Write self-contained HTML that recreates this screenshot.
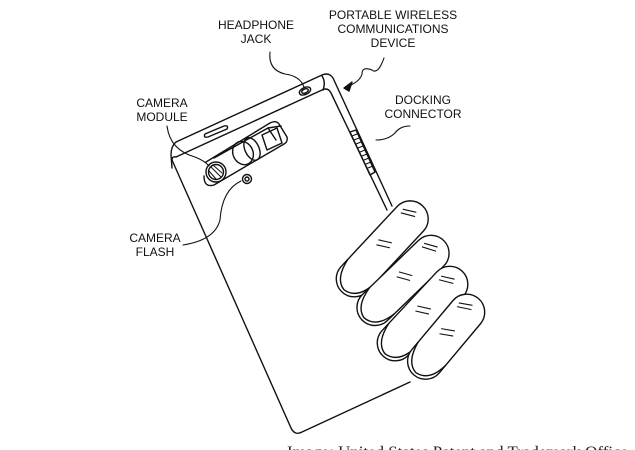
<!DOCTYPE html>
<html><head><style>
body{margin:0;background:#fff;width:635px;height:450px;overflow:hidden;position:relative}
svg{position:absolute;left:0;top:0}
.l{font-family:"Liberation Sans",Arial,sans-serif;font-size:12px;fill:#111;text-anchor:middle}
</style></head><body>
<svg width="635" height="450" viewBox="0 0 635 450">
<g fill="none" stroke="#111" stroke-width="1.4" stroke-linejoin="round" stroke-linecap="round">
<!-- phone body -->
<path d="M176,142 L322,75 Q329,72 333,78 L392,206"/>
<path d="M176,142 Q171,146 171,155 L172,168"/>
<path d="M176,157 L322,90 Q328,87 331,93 L387,210"/>
<path d="M322,76 Q326,82 323,90"/>
<path d="M172,160 L291,428 Q295,436 302,432 L410,382"/>
<path d="M172,160 Q172,156 176,157"/>
<!-- headphone jack -->
<ellipse cx="305" cy="91" rx="6" ry="3.5" transform="rotate(-25 305 91)"/>
<ellipse cx="305" cy="91" rx="3.5" ry="2" transform="rotate(-25 305 91)"/>
<!-- slot -->
<path d="M205,134 L224,126 Q229,125 227,129 L208,137 Q203,138 205,134Z"/>
<!-- camera module -->
<path d="M206,162 L270,123 Q276,120 279,124 L287,137 Q288,142 284,144 L214,185 Q204,188 204,176"/>
<path d="M214,158 L268,128 L281,126"/>
<path d="M268,128 L276,140"/>
<circle cx="216" cy="172" r="10"/>
<circle cx="216" cy="172" r="7.5"/>
<path d="M211,167 L221,177 M209,171 L216,179 M213,165 L222,173" stroke-width="1"/>
<ellipse cx="243" cy="153" rx="10" ry="12" transform="rotate(-25 243 153)"/>
<ellipse cx="252" cy="149" rx="7" ry="12" transform="rotate(-25 252 149)"/>
<path d="M262,135 L277,128 L282,143 L267,150Z"/>
<circle cx="247" cy="179" r="4.5"/>
<circle cx="247" cy="179" r="2"/>
<!-- docking grill -->
<path d="M350,132 L356,130 L375,172 L370,175Z"/>
<path d="M352,136 L357,134 M354,140 L359,138 M356,144 L361,142 M358,148 L363,146 M360,152 L365,150 M362,156 L367,154 M364,160 L369,158 M366,164 L371,162 M368,168 L373,166" stroke-width="1"/>
<!-- leaders -->
<path d="M270,52 Q268,70 285,74 Q300,76 304,87" stroke-width="1.1"/>
<path d="M384,58 Q378,75 372,70 Q362,66 362,74 Q360,82 346,87" stroke-width="1.1"/>
<path d="M344,88 L352,82 L349,91Z" fill="#111"/>
<path d="M410,126 Q400,126 395,133 Q388,140 376,140" stroke-width="1.1"/>
<path d="M167,126 Q170,150 195,157 Q205,161 209,166" stroke-width="1.1"/>
<path d="M183,245 Q215,240 220,220 Q222,190 241,181" stroke-width="1.1"/>
</g>
<!-- fingers -->
<g fill="#fff" stroke="#111" stroke-width="1.4">
<g transform="translate(342,292) rotate(-47)"><rect x="0" y="-18" width="118" height="36" rx="18"/><path d="M28,-18 Q5,-14 3,0 Q5,16 28,18" fill="none"/><path d="M58,-7 L65,5 M63,-9 L70,3 M98,-11 L105,2 M102,-12 L109,0" fill="none" stroke-width="1.1"/></g>
<g transform="translate(362,320) rotate(-44)"><rect x="0" y="-18" width="114" height="36" rx="18"/><path d="M28,-18 Q5,-14 3,0 Q5,16 28,18" fill="none"/><path d="M55,-7 L62,5 M60,-9 L67,3 M94,-11 L101,2 M98,-12 L105,0" fill="none" stroke-width="1.1"/></g>
<g transform="translate(383,356) rotate(-47)"><rect x="0" y="-18" width="116" height="36" rx="18"/><path d="M28,-18 Q5,-14 3,0 Q5,16 28,18" fill="none"/><path d="M55,-7 L62,5 M60,-9 L67,3 M94,-11 L101,2 M98,-12 L105,0" fill="none" stroke-width="1.1"/></g>
<g transform="translate(414,375) rotate(-50)"><rect x="0" y="-18" width="100" height="36" rx="18"/><path d="M28,-18 Q5,-14 3,0 Q5,16 28,18" fill="none"/><path d="M48,-7 L55,5 M53,-9 L60,3 M80,-11 L87,2 M84,-12 L91,0" fill="none" stroke-width="1.1"/></g>
</g>
<text class="l" x="256" y="29">HEADPHONE</text>
<text class="l" x="256" y="43">JACK</text>
<text class="l" x="393" y="19">PORTABLE WIRELESS</text>
<text class="l" x="393" y="33">COMMUNICATIONS</text>
<text class="l" x="393" y="47">DEVICE</text>
<text class="l" x="423" y="104">DOCKING</text>
<text class="l" x="423" y="118">CONNECTOR</text>
<text class="l" x="162" y="107">CAMERA</text>
<text class="l" x="162" y="121">MODULE</text>
<text class="l" x="155" y="242">CAMERA</text>
<text class="l" x="155" y="256">FLASH</text>
<text x="287" y="457" textLength="341" lengthAdjust="spacingAndGlyphs" style="font-family:'Liberation Serif',serif;font-size:16px;fill:#222">Image: United States Patent and Trademark Office</text>
</svg>
</body></html>
